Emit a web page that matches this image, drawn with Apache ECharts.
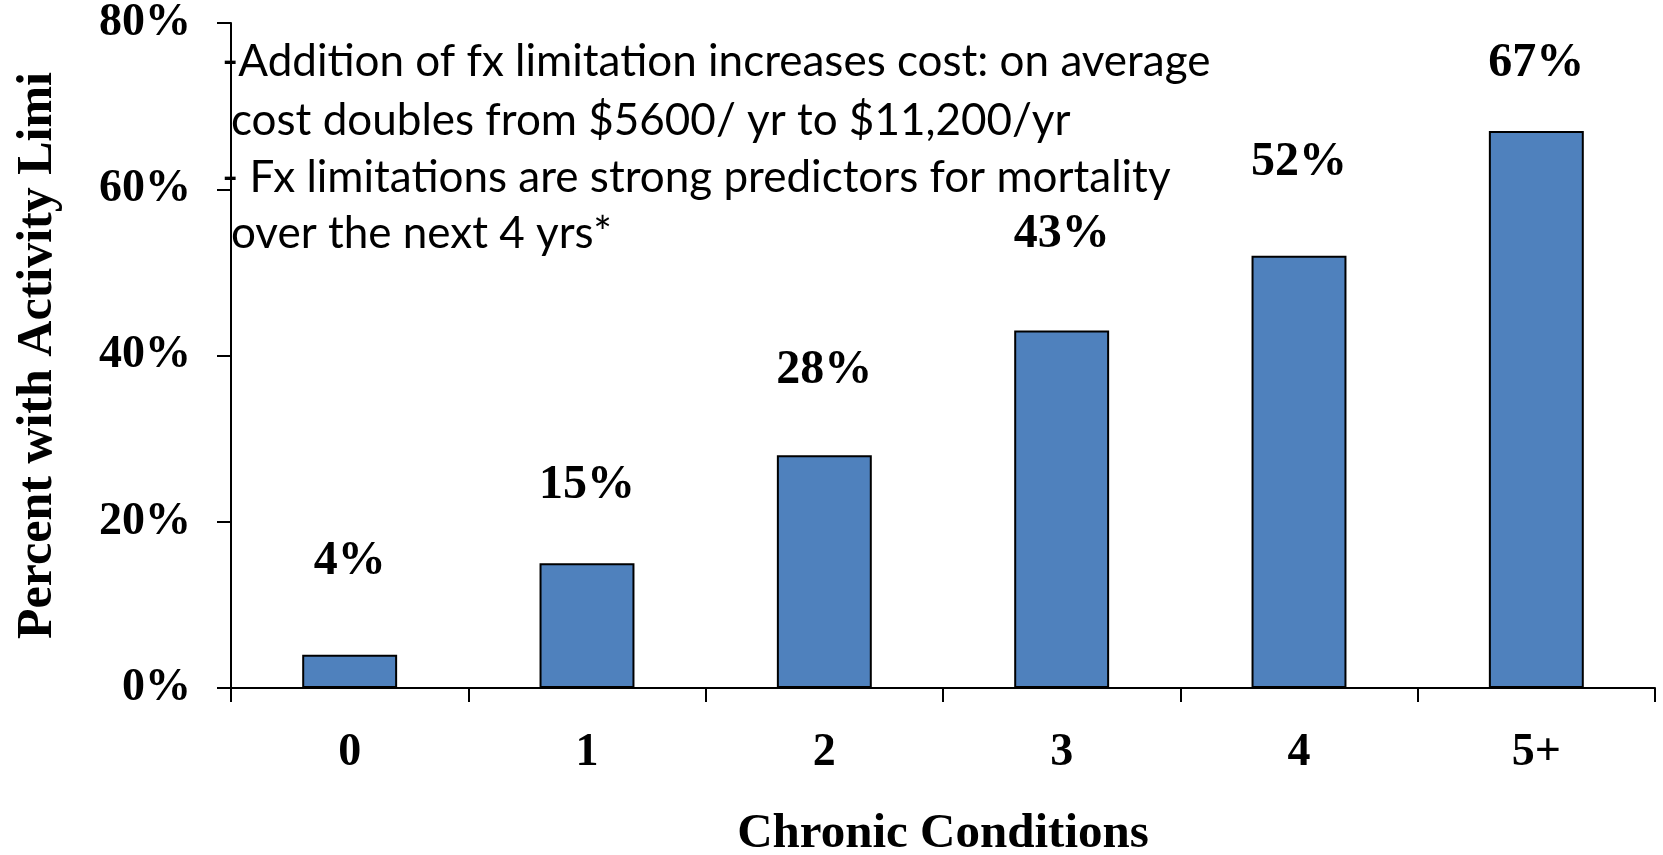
<!DOCTYPE html>
<html>
<head>
<meta charset="utf-8">
<script src="https://cdn.jsdelivr.net/npm/echarts@6/dist/echarts.min.js"></script>
<style>
html,body{margin:0;padding:0;background:#fff;}
#chart{width:1663px;height:855px;}
</style>
</head>
<body>
<div id="chart"></div>
<script>
// ---- data ----
var categories = ['0', '1', '2', '3', '4', '5+'];
var percentWithLimitation = [4, 15, 28, 43, 52, 67];
var yTickValues = [0, 20, 40, 60, 80];
var xAxisTitle = 'Chronic Conditions';
var yAxisTitle = 'Percent with Activity Limi';
var annotationLines = [
  '-Addition of fx limitation increases cost: on average',
  'cost doubles from $5600/ yr to $11,200/yr',
  '- Fx limitations are strong predictors for mortality',
  'over the next 4 yrs*'
];
// label gap above each bar (style)
var labelGaps = [69, 54, 61, 72, 69, 43];

var serif = '"Liberation Serif", "Times New Roman", serif';
var chart = echarts.init(document.getElementById('chart'), null, {renderer: 'canvas'});

var seriesData = percentWithLimitation.map(function (v, i) {
  return {value: v, label: {distance: labelGaps[i]}};
});

var annotationX = [222, 231, 222, 231];
var annotationTop = [40, 99, 156, 212];
var graphics = annotationLines.map(function (t, i) {
  return {
    type: 'text',
    left: annotationX[i],
    top: annotationTop[i],
    z: 100,
    style: {
      text: t,
      font: '44px Lato',
      fill: '#000'
    }
  };
});

chart.setOption({
  animation: false,
  backgroundColor: '#fff',
  grid: {left: 231, right: 8, top: 23, bottom: 167, containLabel: false, outerBoundsMode: 'none'},
  graphic: graphics,
  xAxis: {
    type: 'category',
    data: categories,
    boundaryGap: true,
    axisLine: {show: true, lineStyle: {color: '#000', width: 2}},
    axisTick: {show: true, alignWithLabel: false, length: 14, lineStyle: {color: '#000', width: 2}},
    axisLabel: {fontFamily: serif, fontWeight: 'bold', fontSize: 46, color: '#000', margin: 42},
    name: xAxisTitle,
    nameLocation: 'middle',
    nameGap: 122,
    nameTextStyle: {fontFamily: serif, fontWeight: 'bold', fontSize: 49, color: '#000'}
  },
  yAxis: {
    type: 'value',
    min: 0,
    max: 80,
    interval: 20,
    axisLine: {show: true, lineStyle: {color: '#000', width: 2}},
    axisTick: {show: true, inside: false, length: 14, lineStyle: {color: '#000', width: 2}},
    splitLine: {show: false},
    axisLabel: {
      fontFamily: serif, fontWeight: 'bold', fontSize: 46, color: '#000', margin: 40,
      formatter: function (v) { return v + '%'; }
    },
    name: yAxisTitle,
    nameLocation: 'middle',
    nameRotate: 90,
    nameGap: 168,
    nameTextStyle: {fontFamily: serif, fontWeight: 'bold', fontSize: 50, color: '#000'}
  },
  series: [{
    type: 'bar',
    data: seriesData,
    barCategoryGap: '60%',
    itemStyle: {color: '#4F81BD', borderColor: '#000', borderWidth: 2},
    label: {
      show: true,
      position: 'top',
      formatter: '{c}%',
      fontFamily: serif,
      fontWeight: 'bold',
      fontSize: 48,
      color: '#000'
    }
  }]
});
</script>
</body>
</html>
